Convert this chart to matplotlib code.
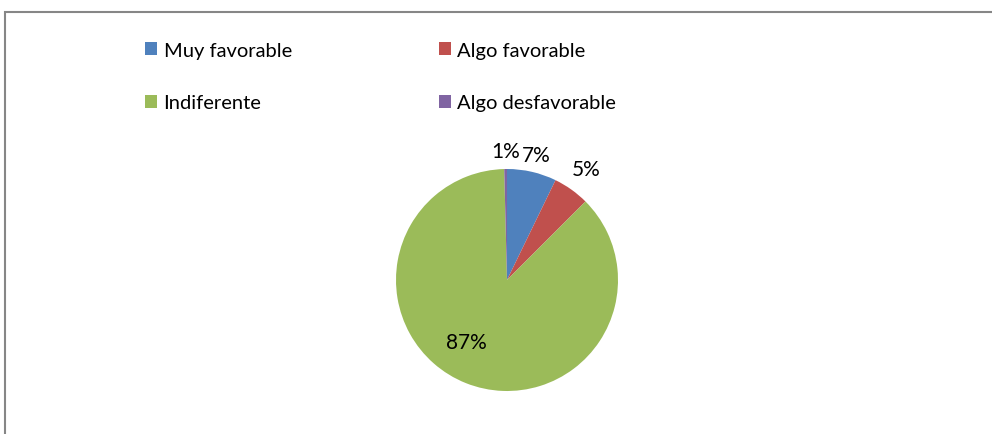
import matplotlib.pyplot as plt
import matplotlib.patches as mpatches
import numpy as np

plt.rcParams['font.family'] = ['Lato', 'DejaVu Sans']

# data (order: clockwise from 12 o'clock)
categories = ["Muy favorable", "Algo favorable", "Indiferente", "Algo desfavorable"]
values = [7.2, 5.3, 87.1, 0.4]
pct_labels = ["7%", "5%", "87%", "1%"]

colors = ['#4F81BD', '#C0504D', '#9BBB59', '#8064A2']
label_dist = [1.16, 1.23, 0.67, 1.16]
label_turn = [0, 0, -11.5, 0]   # degrees, nudges the label round the centre

W, H = 992, 435
fig = plt.figure(figsize=(W / 100.0, H / 100.0), dpi=100)

# chart frame (runs off the right/bottom edge like the original)
fig.patches.append(mpatches.Rectangle((5.0 / W, -0.1), 1.2, 1 - 13.0 / H + 0.1,
                                      transform=fig.transFigure, fill=False,
                                      edgecolor='#868686', linewidth=1.5))

# pie axes: centre (507,281) px, radius 111 px
cx, cy, r = 507, 281, 111
ax = fig.add_axes([(cx - r) / W, (H - cy - r) / H, 2.0 * r / W, 2.0 * r / H])
wedges, _ = ax.pie(values, colors=colors, startangle=90, counterclock=False,
                   radius=1.0, wedgeprops=dict(linewidth=0))
ax.set_xlim(-1, 1)
ax.set_ylim(-1, 1)
ax.set_aspect('auto')
ax.axis('off')

for w, lab, d, t in zip(wedges, pct_labels, label_dist, label_turn):
    ang = np.deg2rad((w.theta1 + w.theta2) / 2.0 + t)
    ax.text(d * np.cos(ang), d * np.sin(ang), lab, ha='center', va='center',
            fontsize=15, color='black', clip_on=False)

# legend is filled row by row in the original -> reorder for column-major fill
handles = [mpatches.Patch(facecolor=c, edgecolor='none') for c in colors]
order = [0, 2, 1, 3]
fig.legend([handles[i] for i in order], [categories[i] for i in order],
           loc='upper left', ncol=2,
           bbox_to_anchor=(145.0 / W, 1 - 43.0 / H), frameon=False,
           fontsize=14.5, borderpad=0, borderaxespad=0,
           handlelength=0.62, handleheight=0.62, handletextpad=0.3,
           columnspacing=7.3, labelspacing=1.75)

fig.savefig('out.png', dpi=100)
